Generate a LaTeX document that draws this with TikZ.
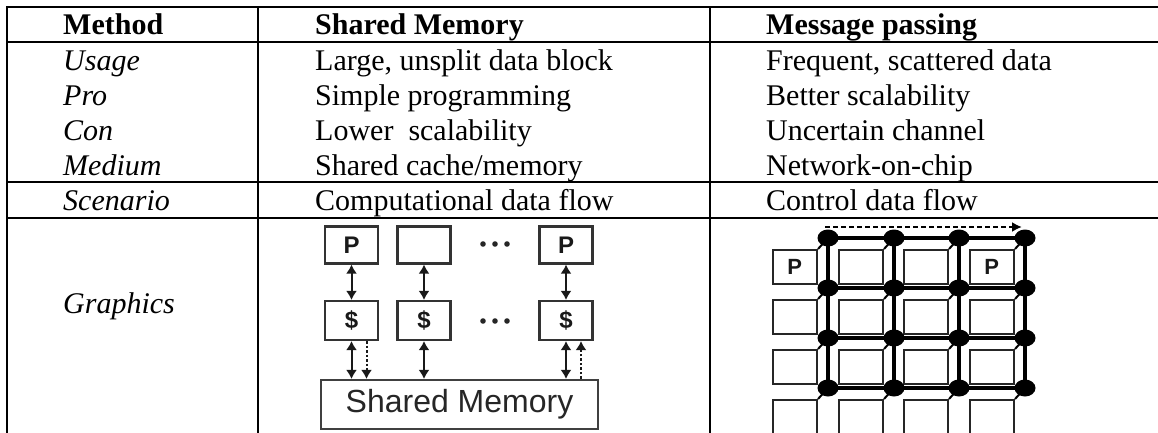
\documentclass[tikz,border=0pt]{standalone}
\usepackage{fontspec}
\setmainfont{Liberation Serif}
\newfontfamily\arialfont{Liberation Sans}
\usetikzlibrary{arrows.meta,shapes.geometric}

\begin{document}
\begin{tikzpicture}[x=1pt,y=-1pt,
  rule/.style={line width=2pt,line cap=rect},
  cell/.style={anchor=base west,inner sep=0pt,font=\fontsize{30}{36}\selectfont},
  head/.style={anchor=base west,inner sep=0pt,font=\fontsize{30}{36}\selectfont\bfseries},
  lab/.style={anchor=base west,inner sep=0pt,font=\fontsize{30}{36}\selectfont\itshape},
  unit/.style={draw=black!80,line width=2.2pt,minimum width=53pt,minimum height=37pt,
    inner sep=0pt,font=\arialfont\bfseries\fontsize{24}{24}\selectfont,text=black!90},
  cache/.style={unit,minimum height=39pt},
  memory/.style={draw=black!75,line width=2.2pt,minimum width=277pt,minimum height=49pt,
    inner sep=0pt,font=\arialfont\fontsize{32}{32}\selectfont,text=black!85},
  tip/.tip={Latex[length=9pt,width=11pt]},
  bus/.style={line width=2pt,draw=black!90,tip-tip},
  snoop/.style={line width=2pt,draw=black!90,dash pattern=on 2.5pt off 2pt,-tip},
  router/.style={ellipse,fill=black,minimum width=21pt,minimum height=17pt,inner sep=0pt},
  pe/.style={draw=black!85,line width=2.4pt,minimum width=44pt,minimum height=34pt,inner sep=0pt},
  pelabel/.style={inner sep=0pt,font=\arialfont\bfseries\fontsize{22}{22}\selectfont,text=black!90},
  link/.style={line width=3.2pt,draw=black},
  flow/.style={line width=2pt,dash pattern=on 5pt off 3pt,-{Latex[length=10pt,width=10pt]}}
]
\useasboundingbox (0,0) rectangle (1158,433);

% table rules
\draw[rule] (7,7) -- (1158,7);
\draw[rule] (7,42) -- (1158,42);
\draw[rule] (7,182) -- (1158,182);
\draw[rule] (7,218) -- (1158,218);
\draw[rule] (7,7) -- (7,433);
\draw[rule] (258,7) -- (258,433);
\draw[rule] (710,7) -- (710,433);

% header
\node[head] (hMethod) at (63,35) {Method};
\node[head] (hShared) at (315,35) {Shared Memory};
\node[head] (hMsg) at (766,35) {Message passing};

% rows
\node[lab] (lUsage) at (63,71) {Usage};
\node[lab] (lPro) at (63,106) {Pro};
\node[lab] (lCon) at (63,140) {Con};
\node[lab] (lMedium) at (63,175) {Medium};
\node[lab] (lScenario) at (63,210) {Scenario};
\node[lab] (lGraphics) at (63,313) {Graphics};

\node[cell] (sUsage) at (315,71) {Large, unsplit data block};
\node[cell] (sPro) at (315,106) {Simple programming};
\node[cell] (sCon) at (315,140) {Lower\ \ scalability};
\node[cell] (sMedium) at (315,175) {Shared cache/memory};
\node[cell] (sScenario) at (315,210) {Computational data flow};

\node[cell] (mUsage) at (766,71) {Frequent, scattered data};
\node[cell] (mPro) at (766,106) {Better scalability};
\node[cell] (mCon) at (766,140) {Uncertain channel};
\node[cell] (mMedium) at (766,175) {Network-on-chip};
\node[cell] (mScenario) at (766,210) {Control data flow};

% shared-memory organisation
\node[unit] (p1) at (351.5,245) {P};
\node[unit] (p2) at (424,245) {};
\node[unit] (p3) at (566,245) {P};
\node[cache] (c1) at (351.5,320.5) {\$};
\node[cache] (c2) at (424,320.5) {\$};
\node[cache] (c3) at (566,320.5) {\$};
\node[memory] (mem) at (459.5,404.5) {Shared Memory};

\foreach \k in {483,495,507} {
  \fill[black!85] (\k,244) circle (2.8pt);
  \fill[black!85] (\k,321) circle (2.8pt);
}

\draw[bus] (p1) -- (c1);
\draw[bus] (p2) -- (c2);
\draw[bus] (p3) -- (c3);
\draw[bus] (c1.south) -- (c1.south |- mem.north);
\draw[bus] (c2.south) -- (c2.south |- mem.north);
\draw[bus] (c3.south) -- (c3.south |- mem.north);
\draw[snoop] ([xshift=15pt]c1.south) -- ([xshift=15pt]c1.south |- mem.north);
\draw[snoop] ([xshift=15pt]c3.south |- mem.north) -- ([xshift=15pt]c3.south);

% network-on-chip mesh
\foreach \i/\y in {1/238,2/288,3/338,4/388} {
  \foreach \j/\x in {1/828,2/894,3/959,4/1025} {
    \node[router] (r\i\j) at (\x,\y) {};
    \node[pe,anchor=north east] (e\i\j) at (\x-10,\y+11) {};
    \draw[line width=2pt] (e\i\j.north east) -- (r\i\j.center);
  }
}
\foreach \i in {1,...,4} {
  \draw[link] (r\i1.center) -- (r\i4.center);
  \draw[link] (r1\i.center) -- (r4\i.center);
}
\node[pelabel] (peA) at (e11.center) {P};
\node[pelabel] (peB) at (e14.center) {P};

\coordinate (flowS) at (825,227);
\coordinate (flowE) at (1022,227);
\draw[flow] (flowS) -- (flowE);
\end{tikzpicture}
\end{document}
